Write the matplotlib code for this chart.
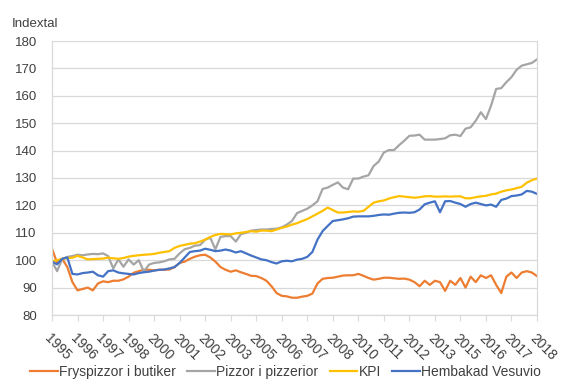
import numpy as np
import matplotlib
matplotlib.use("Agg")
import matplotlib.pyplot as plt

# month offsets from Jan 1995 (quarterly readings)
months = list(range(0, 286, 3))

fryspizzor = [104.2, 99, 100.5, 97.5, 92, 89, 89.5, 90, 89, 91.5,
              92.3, 92, 92.5, 92.5, 93, 94, 95.4, 96, 96.5, 96.5,
              96.3, 96.5, 96.5, 96.6, 97.5, 99, 99.5, 100.5, 101.3, 101.8,
              102, 101, 99.5, 97.5, 96.5, 95.8, 96.3, 95.6, 95, 94.3,
              94.2, 93.5, 92.5, 90.5, 88, 87, 86.8, 86.3, 86.3, 86.7,
              87, 87.8, 91.5, 93.2, 93.5, 93.6, 94, 94.4, 94.5, 94.5,
              95, 94.3, 93.5, 92.9, 93.2, 93.6, 93.6, 93.4, 93.2, 93.3,
              92.9, 92, 90.5, 92.5, 91, 92.5, 92, 88.8, 92.5, 91,
              93.5, 90, 94, 92, 94.5, 93.5, 94.5, 91, 88, 94,
              95.5, 93.5, 95.5, 96, 95.5, 94.2]

pizzerior = [99.5, 96, 100.5, 101.2, 101.5, 102, 101.8, 102.1, 102.3, 102.2,
             102.5, 101.5, 97, 100.3, 97.6, 100.3, 98.4, 100, 95.8, 98.4,
             99, 99.2, 99.6, 100.3, 100.5, 102.5, 104, 104.5, 105.3, 105.5,
             107.5, 108.2, 104, 108.5, 108.8, 108.8, 106.8, 109.5, 110, 110.8,
             111, 111.2, 111.2, 111.4, 111.5, 112, 113, 114.3, 117.2, 118,
             118.8, 120, 121.5, 126, 126.5, 127.5, 128.4, 126.5, 125.9, 129.8,
             129.8, 130.5, 131, 134.4, 136, 139.3, 140.2, 140.2, 142, 143.6,
             145.4, 145.5, 145.8, 144, 144, 144, 144.2, 144.5, 145.6, 145.8,
             145.3, 148, 148.5, 150.9, 154, 151.5, 156.4, 162.5, 162.8, 165,
             166.8, 169.5, 171, 171.5, 172, 173.3]

kpi = [99.6, 100, 100.5, 100.8, 100.9, 101.6, 101, 100.3, 100.4, 100.5,
       100.6, 100.9, 100.7, 100.5, 100.8, 101.3, 101.6, 101.8, 102, 102.1,
       102.3, 102.7, 103, 103.3, 104.5, 105.2, 105.6, 106, 106.2, 106.8,
       107.5, 108.5, 109.2, 109.6, 109.5, 109.4, 109.8, 110, 110.3, 110.6,
       110.4, 110.8, 110.8, 110.6, 111.2, 111.8, 112.3, 113, 113.5, 114.3,
       115, 116, 117, 118, 119.2, 118.3, 117.4, 117.4, 117.6, 117.8,
       117.7, 118, 119.5, 121, 121.5, 121.8, 122.5, 123, 123.4, 123.2,
       123, 122.8, 123, 123.3, 123.4, 123.2, 123.2, 123.3, 123.2, 123.3,
       123.3, 122.6, 122.6, 123, 123.3, 123.5, 124, 124.3, 125, 125.5,
       125.8, 126.3, 126.8, 128.3, 129.2, 129.8]

vesuvio = [99.5, 98.5, 100.5, 101, 95, 94.8, 95.3, 95.5, 95.8, 94.5,
           94, 96, 96.3, 95.5, 95.2, 95, 94.8, 95.3, 95.6, 95.8,
           96.2, 96.5, 96.6, 97, 97.5, 99, 101, 103, 103.3, 103.5,
           104.2, 103.8, 103.3, 103.5, 103.9, 103.5, 102.8, 103.3, 102.5, 101.7,
           101, 100.3, 100, 99.3, 98.8, 99.6, 99.8, 99.6, 100.2, 100.5,
           101.2, 103, 107.5, 110.6, 112.5, 114.3, 114.6, 114.9, 115.3, 115.9,
           116, 116, 116, 116.2, 116.5, 116.7, 116.6, 117, 117.3, 117.4,
           117.3, 117.5, 118.5, 120.4, 121, 121.5, 117.5, 121.5, 121.6, 121,
           120.5, 119.5, 120.5, 121, 120.5, 120, 120.3, 119.5, 122, 122.5,
           123.4, 123.6, 124, 125.3, 125, 124.2]

tick_pos = list(range(0, 286, 15))
tick_labels = ["1995", "1996", "1997", "1998", "2000", "2001", "2002", "2003",
               "2005", "2006", "2007", "2008", "2010", "2011", "2012", "2013",
               "2015", "2016", "2017", "2018"]

plt.rcParams['font.family'] = ['Liberation Sans', 'DejaVu Sans']

fig = plt.figure(figsize=(5.68, 3.89), dpi=100)
ax = fig.add_axes([52 / 568, 1 - 315 / 389, (537 - 52) / 568, (315 - 41) / 389])

series = [
    ("Fryspizzor i butiker", fryspizzor, "#ED7D31"),
    ("Pizzor i pizzerior", pizzerior, "#A5A5A5"),
    ("KPI", kpi, "#FFC000"),
    ("Hembakad Vesuvio", vesuvio, "#4472C4"),
]
for name, vals, col in series:
    ax.plot(months, vals, color=col, lw=1.6, label=name)

ax.set_xlim(0, 285)
ax.set_ylim(80, 180)
ax.set_yticks(range(80, 181, 10))
ax.grid(axis='y', color='#D9D9D9', lw=0.9)
ax.set_axisbelow(True)
ax.spines['top'].set_visible(False)
for s in ['left', 'right', 'bottom']:
    ax.spines[s].set_color('#D9D9D9')
    ax.spines[s].set_linewidth(0.9)

ax.set_xticks(tick_pos)
ax.set_xticklabels(tick_labels, rotation=-45, ha='left', va='top',
                   rotation_mode='anchor', fontsize=10, color='#404040')
ax.tick_params(axis='x', length=4, color='#D9D9D9', pad=8)
ax.tick_params(axis='y', length=0, pad=11, labelsize=9.5, labelcolor='#404040')

fig.text(12 / 568, 1 - 24 / 389, "Indextal", fontsize=9.5, color='#404040', va='center')

fig.legend(loc='center', bbox_to_anchor=(0.503, 0.044), ncol=4, frameon=False,
           fontsize=10, handlelength=2.0, handletextpad=0.1, columnspacing=0.8,
           labelcolor='#404040')

fig.savefig("out.png", dpi=100)
